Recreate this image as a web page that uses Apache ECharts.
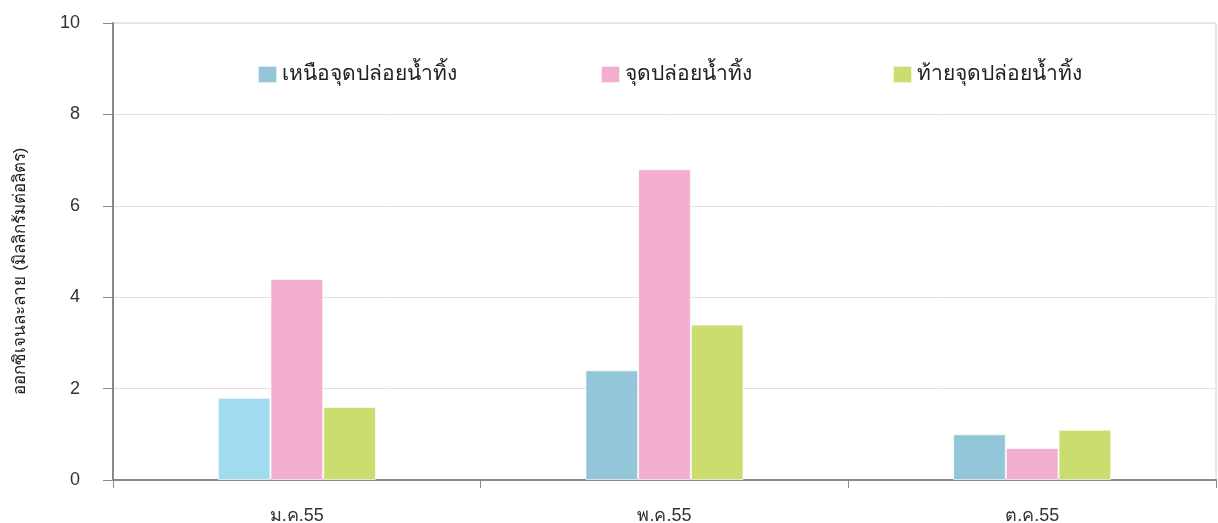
<!DOCTYPE html>
<html>
<head>
<meta charset="utf-8">
<script src="https://cdn.jsdelivr.net/npm/echarts@6/dist/echarts.min.js"></script>
<style>
  html, body { margin: 0; padding: 0; background: #fff; }
  #chart { width: 1218px; height: 523px; }
</style>
</head>
<body>
<div id="chart"></div>
<script>
// Dissolved oxygen by sampling point and month
const categories = ['ม.ค.55', 'พ.ค.55', 'ต.ค.55'];
const seriesNames = ['เหนือจุดปล่อยน้ำทิ้ง', 'จุดปล่อยน้ำทิ้ง', 'ท้ายจุดปล่อยน้ำทิ้ง'];
const upstream = [1.8, 2.4, 1.0];
const outfall = [4.4, 6.8, 0.7];
const downstream = [1.6, 3.4, 1.1];
const yTicks = [0, 2, 4, 6, 8, 10];

const colors = ['#92c6d8', '#f2adcf', '#cbdd6f'];
const fontFamily = 'Liberation Sans, Arial, sans-serif';

const chart = echarts.init(document.getElementById('chart'), null, { renderer: 'canvas' });

function makeSeries(name, values, color, firstColor) {
  return {
    name: name,
    type: 'bar',
    barGap: '0%',
    barCategoryGap: '57%',
    itemStyle: { color: color, borderColor: 'rgba(255,255,255,0.7)', borderWidth: 1 },
    data: values.map((v, i) => (i === 0 && firstColor) ? { value: v, itemStyle: { color: firstColor } } : v)
  };
}

const legendLefts = [252, 595, 887];

chart.setOption({
  animation: false,
  color: colors,
  legend: seriesNames.map((n, i) => ({
    data: [n],
    left: legendLefts[i],
    top: 59,
    itemWidth: 19,
    itemHeight: 17,
    itemGap: 6,
    icon: 'rect',
    textStyle: { fontSize: 21, color: '#222', fontFamily: fontFamily }
  })),
  grid: {
    left: 113, right: 2, top: 23, bottom: 43,
    outerBoundsMode: 'none',
    containLabel: false,
    show: true, borderColor: '#d0d0d0', borderWidth: 1
  },
  xAxis: {
    type: 'category',
    data: categories,
    axisLine: { lineStyle: { color: '#888', width: 2 } },
    axisTick: { show: true, length: 8, alignWithLabel: false, lineStyle: { color: '#888' } },
    axisLabel: { fontSize: 18, color: '#333', margin: 27, fontFamily: fontFamily }
  },
  yAxis: {
    type: 'value',
    min: yTicks[0],
    max: yTicks[yTicks.length - 1],
    interval: 2,
    axisLine: { show: true, lineStyle: { color: '#888', width: 2 } },
    axisTick: { show: true, length: 10, lineStyle: { color: '#888' } },
    axisLabel: { fontSize: 18, color: '#333', margin: 33, fontFamily: fontFamily },
    splitLine: { lineStyle: { color: '#e2e2e2' } }
  },
  graphic: [{
    type: 'text',
    x: 20,
    y: 271,
    rotation: Math.PI / 2,
    style: {
      text: 'ออกซิเจนละลาย (มิลลิกรัมต่อลิตร)',
      fontSize: 17,
      fill: '#222',
      fontFamily: fontFamily,
      textAlign: 'center',
      textVerticalAlign: 'middle'
    }
  }],
  series: [
    makeSeries(seriesNames[0], upstream, colors[0], '#a1dbf0'),
    makeSeries(seriesNames[1], outfall, colors[1]),
    makeSeries(seriesNames[2], downstream, colors[2])
  ]
});
</script>
</body>
</html>
